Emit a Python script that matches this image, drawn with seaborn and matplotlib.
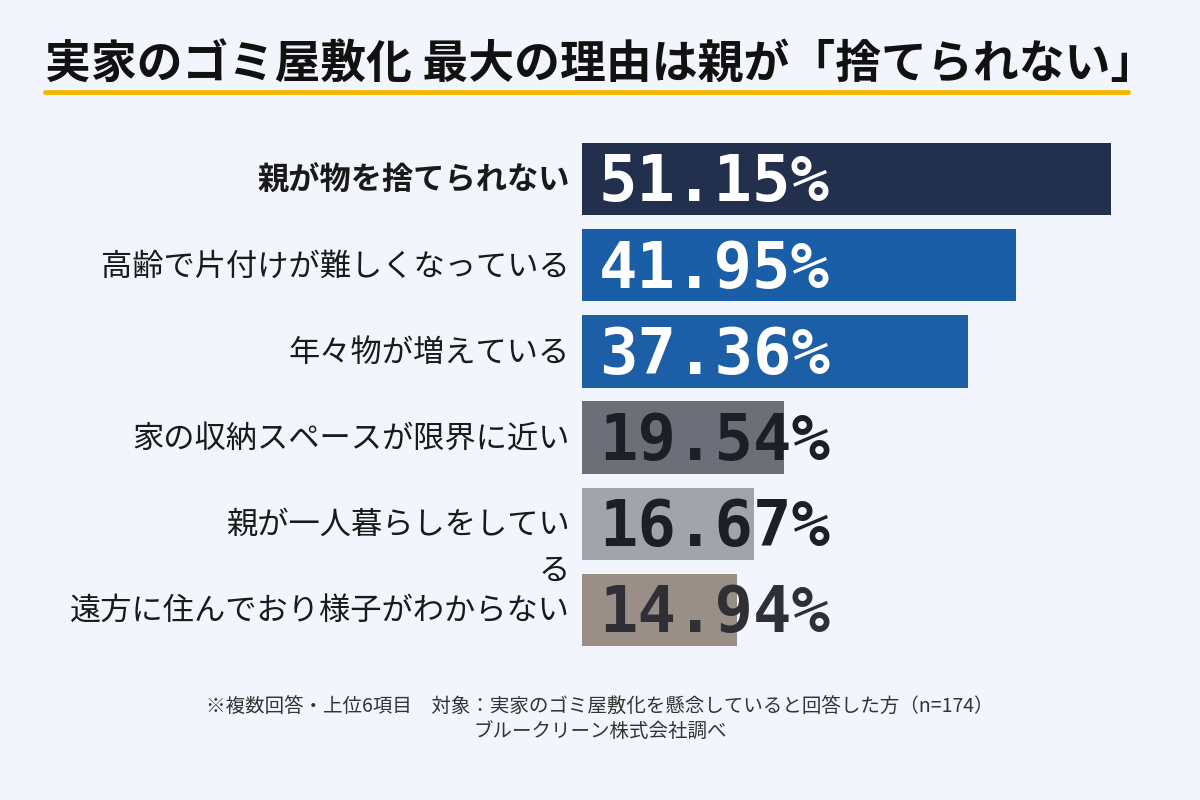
import matplotlib
matplotlib.use("Agg")
import matplotlib.pyplot as plt
import seaborn as sns
import pandas as pd

# データ
categories = ["親が物を捨てられない", "高齢で片付けが難しくなっている", "年々物が増えている",
              "家の収納スペースが限界に近い", "親が一人暮らしをしてい\nる", "遠方に住んでおり様子がわからない"]
values = [51.15, 41.95, 37.36, 19.54, 16.67, 14.94]
bar_colors = ["#22304D", "#1A5EA8", "#1D5FA6", "#6D6F78", "#A3A3AC", "#9A8F87"]
label_colors = ["white", "white", "white", "#1E1E27", "#1E1E27", "#2E3036"]

title = "実家のゴミ屋敷化 最大の理由は親が「捨てられない」"
note = "※複数回答・上位6項目　対象：実家のゴミ屋敷化を懸念していると回答した方（n=174）\nブルークリーン株式会社調べ"

bg = "#F2F5FB"
sns.set_theme(style="white")
plt.rcParams["font.family"] = ["Noto Sans CJK JP", "DejaVu Sans"]

df = pd.DataFrame({"cat": categories, "val": values})

fig = plt.figure(figsize=(12, 8), dpi=100, facecolor=bg)
ax = fig.add_axes([0.485, 0.18375, 0.474, 0.64625])
ax.set_facecolor(bg)

sns.barplot(data=df, x="val", y="cat", hue="cat", palette=bar_colors, legend=False,
            width=0.84, saturation=1, orient="h", linewidth=0, ax=ax)
ax.set_xlim(0, 55)
ax.set_ylim(5.5, -0.5)
ax.set_xlabel("")
ax.set_ylabel("")
ax.set_xticks([])
ax.set_yticks([])
sns.despine(ax=ax, left=True, bottom=True)

# 数値ラベル
for i, v in enumerate(values):
    ax.annotate(f"{v:.2f}%", (0, i), xytext=(12, 1.5), textcoords="offset points",
                ha="left", va="center_baseline", fontsize=46, fontweight="bold",
                family="DejaVu Sans Mono", color=label_colors[i])

# 項目ラベル
for i, c in enumerate(categories):
    lines = c.split("\n")
    for k, line in enumerate(lines):
        ax.annotate(line, (0, i), xytext=(-9, -1 - 33 * k), textcoords="offset points",
                    ha="right", va="center", fontsize=22.5,
                    fontweight="bold" if i == 0 else "normal", color="#1A1A1A")

# タイトルと下線
fig.text(0.0375, 0.918, title, ha="left", va="center", fontsize=33, fontweight="bold",
         color="#111111")
fig.add_artist(plt.Line2D([0.0375, 0.94], [0.885, 0.885], color="#F5B800", linewidth=3.5))

fig.text(0.5, 0.1, note, ha="center", va="center", fontsize=14, color="#333333",
         linespacing=1.25)

fig.savefig("out.png", dpi=100, facecolor=bg)
